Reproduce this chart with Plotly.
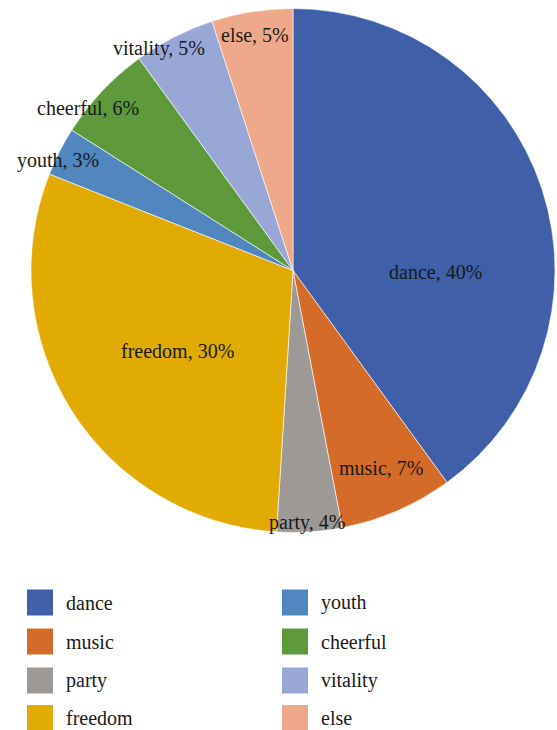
import plotly.graph_objects as go

# Share of associations (percent)
categories = ["dance", "music", "party", "freedom", "youth", "cheerful", "vitality", "else"]
shares = [40, 7, 4, 30, 3, 6, 5, 5]
colors = ["#3F5FA9", "#D56B28", "#9C9996", "#E2AB04", "#4F87BE", "#5E9A3B", "#98A7D6", "#EEA98A"]

# Legend layout: two columns of four entries
legend_cols = [categories[:4], categories[4:]]

# Label anchor points (paper fractions) for each slice label
label_xy = [
    (0.781, 0.627), (0.684, 0.359), (0.551, 0.284), (0.318, 0.519),
    (0.104, 0.780), (0.158, 0.852), (0.285, 0.933), (0.458, 0.952),
]

W, H = 557, 730
FONT = "Liberation Serif"
FS = 20

fig = go.Figure(go.Pie(
    labels=categories,
    values=shares,
    sort=False,
    direction="clockwise",
    rotation=0,
    marker=dict(colors=colors, line=dict(color="rgba(255,255,255,0.6)", width=1)),
    textinfo="none",
    hoverinfo="label+percent",
    showlegend=False,
    domain=dict(x=[31 / W, 555 / W], y=[1 - 533 / H, 1 - 8 / H]),
))

annotations = []
for cat, val, (ax, ay) in zip(categories, shares, label_xy):
    annotations.append(dict(
        x=ax, y=ay, xref="paper", yref="paper", showarrow=False,
        text=f"{cat}, {val}%", font=dict(family=FONT, size=FS, color="#1a1a1a"),
        xanchor="center", yanchor="middle",
    ))

# Custom legend: colored squares with labels
shapes = []
col_x = [27, 282]
row_y = [602.5, 641.5, 680.5, 718]
sq = 26
color_of = dict(zip(categories, colors))
for ci, col in enumerate(legend_cols):
    for ri, cat in enumerate(col):
        x0 = col_x[ci]
        yc = row_y[ri]
        shapes.append(dict(
            type="rect", xref="paper", yref="paper",
            x0=x0 / W, x1=(x0 + sq) / W,
            y0=1 - (yc + sq / 2) / H, y1=1 - (yc - sq / 2) / H,
            fillcolor=color_of[cat], line=dict(width=0),
        ))
        annotations.append(dict(
            x=(x0 + 37) / W, y=1 - yc / H, xref="paper", yref="paper",
            showarrow=False, text=cat, xanchor="left", yanchor="middle",
            font=dict(family=FONT, size=FS, color="#1a1a1a"),
        ))

fig.update_layout(
    width=W, height=H,
    margin=dict(l=0, r=0, t=0, b=0),
    paper_bgcolor="white",
    plot_bgcolor="white",
    annotations=annotations,
    shapes=shapes,
)

fig.write_html("out.html")
